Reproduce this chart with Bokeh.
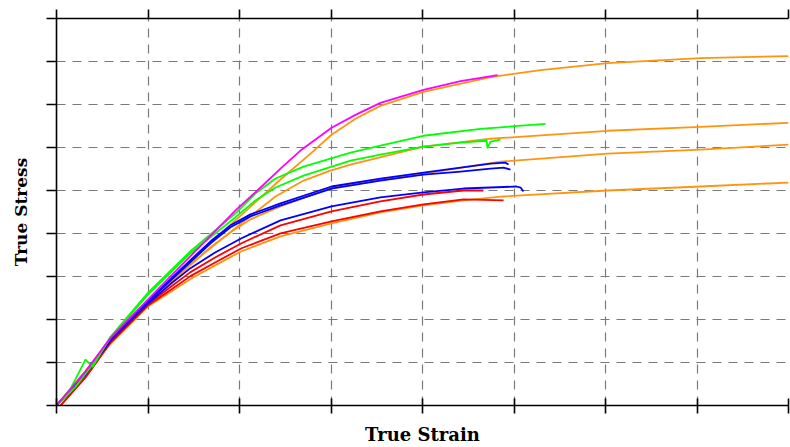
from bokeh.plotting import figure
from bokeh.models import Range1d, FixedTicker, LinearAxis, CustomJSTickFormatter
from bokeh.embed import file_html
from bokeh.resources import INLINE

# ---- data (true strain, true stress) ----
x_ticks = [0, 0.05, 0.10, 0.15, 0.20, 0.25, 0.30, 0.35, 0.40]
y_ticks = [0, 100, 200, 300, 400, 500, 600, 700, 800, 900]

# model curves (orange)
O1_x = [0, 0.0158, 0.0295, 0.0503, 0.0732, 0.1044, 0.1224, 0.1388, 0.1503, 0.1634, 0.1770, 0.2005, 0.2372, 0.2645, 0.3011, 0.3519, 0.4000]
O1_y = [0, 76.4, 152.8, 243.1, 335.6, 456.0, 525.5, 585.6, 629.6, 666.7, 696.8, 729.2, 763.9, 780.1, 796.3, 807.9, 812.5]
O2_x = [0, 0.0158, 0.0295, 0.0503, 0.0732, 0.1044, 0.1197, 0.1350, 0.1497, 0.1607, 0.2005, 0.2372, 0.3011, 0.3519, 0.4000]
O2_y = [0, 74.1, 150.5, 238.4, 328.7, 435.2, 486.1, 523.1, 546.3, 560.2, 601.9, 620.4, 638.9, 648.1, 657.4]
O3_x = [0, 0.0295, 0.0503, 0.0732, 0.0842, 0.0951, 0.1060, 0.1224, 0.1503, 0.1770, 0.2005, 0.2426, 0.3011, 0.3519, 0.4000]
O3_y = [0, 150.5, 240.7, 326.4, 368.1, 402.8, 432.9, 463.0, 506.9, 525.5, 539.4, 567.1, 585.6, 594.9, 606.5]
O4_x = [0, 0.0295, 0.0404, 0.0503, 0.0623, 0.0732, 0.0869, 0.1011, 0.1224, 0.1503, 0.1770, 0.2005, 0.2224, 0.2443, 0.3011, 0.3519, 0.4000]
O4_y = [0, 143.5, 189.8, 231.5, 263.9, 294.0, 326.4, 358.8, 393.5, 423.6, 449.1, 465.3, 476.9, 486.1, 500.0, 509.3, 518.5]

# experimental curves
M_x = [0, 0.0158, 0.0295, 0.0503, 0.0732, 0.0984, 0.1115, 0.1224, 0.1339, 0.1503, 0.1634, 0.1770, 0.2005, 0.2208, 0.2410]
M_y = [0, 78.7, 157.4, 247.7, 347.2, 456.0, 506.9, 550.9, 594.9, 645.8, 675.9, 703.7, 733.8, 754.6, 768.5]
G1_x = [0, 0.0077, 0.0158, 0.0197, 0.0295, 0.0503, 0.0732, 0.0984, 0.1087, 0.1197, 0.1350, 0.1607, 0.1770, 0.2005, 0.2317, 0.2672]
G1_y = [0, 39.4, 106.5, 90.3, 159.7, 263.9, 358.8, 449.1, 493.1, 527.8, 555.6, 587.9, 604.2, 627.3, 643.5, 655.1]
G2_x = [0, 0.0104, 0.0197, 0.0295, 0.0503, 0.0732, 0.0984, 0.1087, 0.1197, 0.1350, 0.1607, 0.1770, 0.2005, 0.2208, 0.2350, 0.2355, 0.2372, 0.2426]
G2_y = [0, 44.0, 94.9, 157.4, 259.3, 354.2, 439.8, 476.9, 506.9, 534.7, 569.4, 583.3, 601.9, 611.1, 615.7, 599.5, 613.4, 618.1]
B1_x = [0, 0.0158, 0.0295, 0.0503, 0.0732, 0.0842, 0.0951, 0.1060, 0.1224, 0.1503, 0.1770, 0.2005, 0.2208, 0.2372, 0.2454, 0.2470]
B1_y = [0, 76.4, 155.1, 245.4, 338.0, 381.9, 419.0, 444.4, 469.9, 509.3, 527.8, 541.7, 553.2, 562.5, 564.8, 560.2]
B2_x = [0, 0.0158, 0.0295, 0.0503, 0.0732, 0.0842, 0.0951, 0.1060, 0.1224, 0.1503, 0.1770, 0.2005, 0.2208, 0.2372, 0.2443, 0.2481]
B2_y = [0, 74.1, 152.8, 243.1, 333.3, 377.3, 414.4, 439.8, 465.3, 504.6, 523.1, 537.0, 544.0, 550.9, 553.2, 548.6]
B3_x = [0, 0.0158, 0.0295, 0.0404, 0.0503, 0.0623, 0.0732, 0.0869, 0.1011, 0.1224, 0.1503, 0.1770, 0.2005, 0.2224, 0.2514, 0.2536, 0.2552]
B3_y = [0, 71.8, 150.5, 196.8, 238.4, 282.4, 319.4, 356.5, 388.9, 430.6, 463.0, 483.8, 495.4, 504.6, 509.3, 506.9, 497.7]
R1_x = [0.0022, 0.0158, 0.0295, 0.0404, 0.0503, 0.0623, 0.0732, 0.0869, 0.1011, 0.1224, 0.1503, 0.1770, 0.2005, 0.2224, 0.2333]
R1_y = [0, 67.1, 148.1, 194.4, 236.1, 275.5, 310.2, 344.9, 377.3, 419.0, 451.4, 474.5, 490.7, 500.0, 500.0]
R2_x = [0.0022, 0.0158, 0.0295, 0.0404, 0.0503, 0.0623, 0.0732, 0.0869, 0.1011, 0.1224, 0.1503, 0.1770, 0.2005, 0.2224, 0.2443]
R2_y = [0, 64.8, 145.8, 192.1, 233.8, 268.5, 300.9, 333.3, 365.7, 400.5, 428.2, 451.4, 467.6, 479.2, 476.9]

x_title = "True Strain"
y_title = "True Stress"

ORANGE = "#ff9410"
MAGENTA = "#ff00ff"
GREEN = "#00ff00"
BLUE = "#0000ff"
RED = "#ff0000"

p = figure(width=790, height=447,
           x_range=Range1d(0, 0.4), y_range=Range1d(0, 900),
           output_backend="svg", toolbar_location=None,
           min_border_left=56, min_border_right=2,
           min_border_top=18, min_border_bottom=40)
p.background_fill_color = "white"
p.border_fill_color = "white"
p.outline_line_color = None

blank = CustomJSTickFormatter(code="return '';")


def style_axis(ax, tin, tout):
    ax.formatter = blank
    ax.major_label_standoff = 0
    ax.minor_tick_line_color = None
    ax.axis_line_color = "black"
    ax.axis_line_width = 1.6
    ax.major_tick_line_color = "black"
    ax.major_tick_line_width = 1.6
    ax.major_tick_in = tin
    ax.major_tick_out = tout


bottom = p.xaxis[0]
left = p.yaxis[0]
bottom.ticker = FixedTicker(ticks=x_ticks)
left.ticker = FixedTicker(ticks=y_ticks)
style_axis(bottom, 7, 8)
style_axis(left, 0, 10)

bottom.axis_label = x_title
bottom.axis_label_standoff = 10
left.axis_label = y_title
left.axis_label_standoff = 16
for ax in [bottom, left]:
    ax.axis_label_text_font = "DejaVu Serif"
    ax.axis_label_text_font_style = "bold"
    ax.axis_label_text_color = "black"
bottom.axis_label_text_font_size = "18px"
left.axis_label_text_font_size = "17px"

top = LinearAxis(ticker=FixedTicker(ticks=x_ticks))
style_axis(top, 0, 9)
p.add_layout(top, "above")

p.xgrid.ticker = FixedTicker(ticks=x_ticks)
p.ygrid.ticker = FixedTicker(ticks=y_ticks)
for g in [p.xgrid[0], p.ygrid[0]]:
    g.grid_line_color = "#7a7a7a"
    g.grid_line_width = 1.2
    g.grid_line_dash = "9 7"

# model curves
for xs, ys in [(O4_x, O4_y), (O3_x, O3_y), (O2_x, O2_y), (O1_x, O1_y)]:
    p.line(xs, ys, line_color=ORANGE, line_width=1.8, line_join="round")

# experimental curves
for xs, ys, c in [(R2_x, R2_y, RED), (R1_x, R1_y, RED),
                  (B3_x, B3_y, BLUE), (B2_x, B2_y, BLUE), (B1_x, B1_y, BLUE),
                  (G2_x, G2_y, GREEN), (G1_x, G1_y, GREEN),
                  (M_x, M_y, MAGENTA)]:
    p.line(xs, ys, line_color=c, line_width=1.8, line_join="round")

open("out.html", "w").write(file_html(p, INLINE))
